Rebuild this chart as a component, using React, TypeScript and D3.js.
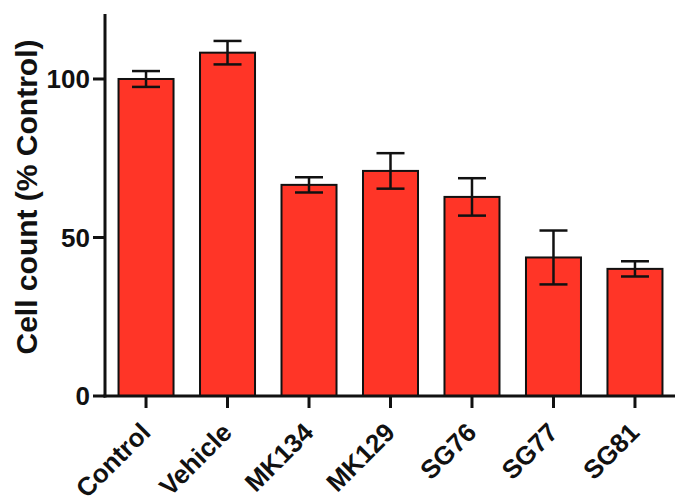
import React from "react";
import * as d3 from "d3";

const categories = ["Control", "Vehicle", "MK134", "MK129", "SG76", "SG77", "SG81"];
const means = [100, 108.3, 66.6, 71, 62.8, 43.7, 40.1];
const errors = [2.5, 3.7, 2.4, 5.6, 5.9, 8.5, 2.4];
const yTicks = [0, 50, 100];
const yLabel = "Cell count (% Control)";

export default function App() {
  const W = 675, H = 502;
  const x0 = 105, x1 = 676, yBottom = 396, yTop = 14;
  const y = d3.scaleLinear().domain([0, 120.5]).range([yBottom, yTop]);
  const x = d3.scaleBand<string>().domain(categories).range([x0, x1]).paddingInner(0.325).paddingOuter(0.166);
  const bw = x.bandwidth();
  const capW = 28;
  const font = "'Liberation Sans', Arial, sans-serif";
  return (
    <svg width={W} height={H} style={{ position: "absolute", left: 0, top: 0, background: "#fff" }}>
      {categories.map((c, i) => {
        const cx = (x(c) as number) + bw / 2;
        return (
          <g key={c}>
            <rect x={x(c)} y={y(means[i])} width={bw} height={yBottom - y(means[i])} fill="#ff3527" stroke="#111" strokeWidth={2} />
            <line x1={cx} x2={cx} y1={y(means[i] + errors[i])} y2={y(means[i] - errors[i])} stroke="#111" strokeWidth={2.5} />
            <line x1={cx - capW / 2} x2={cx + capW / 2} y1={y(means[i] + errors[i])} y2={y(means[i] + errors[i])} stroke="#111" strokeWidth={2.5} />
            <line x1={cx - capW / 2} x2={cx + capW / 2} y1={y(means[i] - errors[i])} y2={y(means[i] - errors[i])} stroke="#111" strokeWidth={2.5} />
            <line x1={cx} x2={cx} y1={yBottom} y2={yBottom + 12} stroke="#111" strokeWidth={3} />
            <text transform={`translate(${cx + 6},${yBottom + 38}) rotate(-45)`} textAnchor="end" fontFamily={font} fontWeight="bold" fontSize={26} fill="#111">{c}</text>
          </g>
        );
      })}
      <line x1={x0} x2={x0} y1={yTop} y2={yBottom + 1.5} stroke="#111" strokeWidth={3} />
      <line x1={x0 - 1.5} x2={W} y1={yBottom} y2={yBottom} stroke="#111" strokeWidth={3} />
      {yTicks.map((t) => (
        <g key={t}>
          <line x1={x0 - 12} x2={x0} y1={y(t)} y2={y(t)} stroke="#111" strokeWidth={3} />
          <text x={x0 - 15} y={y(t)} dy="0.36em" textAnchor="end" fontFamily={font} fontWeight="bold" fontSize={26} fill="#111">{t}</text>
        </g>
      ))}
      <text transform={`translate(37,197) rotate(-90)`} textAnchor="middle" fontFamily={font} fontWeight="bold" fontSize={30} fill="#111">{yLabel}</text>
    </svg>
  );
}
